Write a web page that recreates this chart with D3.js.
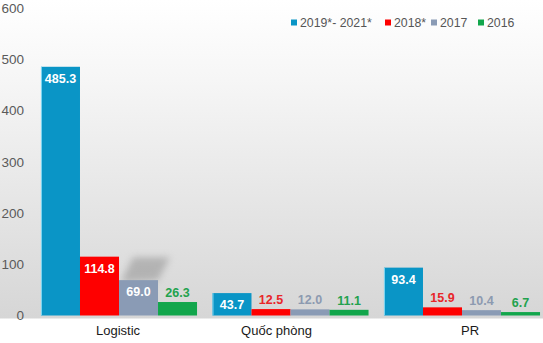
<!DOCTYPE html>
<html>
<head>
<meta charset="utf-8">
<script src="https://cdn.jsdelivr.net/npm/d3@7"></script>
<style>
  html, body { margin: 0; padding: 0; background: #fff; }
  svg { display: block; font-family: "Liberation Sans", Arial, sans-serif; }
</style>
</head>
<body>
<svg id="chart" width="543" height="343"></svg>
<script>
// Categories and series
const categories = ["Logistic", "Quốc phòng", "PR"];
const seriesNames = ["2019*- 2021*", "2018*", "2017", "2016"];
const seriesColors = ["#0a95c6", "#fe0000", "#8a9bb5", "#12a64c"];
const labelColors = ["#0a95c6", "#e8262a", "#8c9ab0", "#22a24e"];

// Values per series, in category order
const values2019_2021 = [485.3, 43.7, 93.4];
const values2018 = [114.8, 12.5, 15.9];
const values2017 = [69.0, 12.0, 10.4];
const values2016 = [26.3, 11.1, 6.7];
const seriesValues = [values2019_2021, values2018, values2017, values2016];

const yTicks = [0, 100, 200, 300, 400, 500, 600];

const width = 543, height = 343;
const svg = d3.select("#chart");

// Background gradient of the plotting area
const defs = svg.append("defs");
const bg = defs.append("linearGradient")
  .attr("id", "bgGrad").attr("x1", 0).attr("y1", 0).attr("x2", 0).attr("y2", 1);
bg.append("stop").attr("offset", "0%").attr("stop-color", "#ffffff");
bg.append("stop").attr("offset", "25%").attr("stop-color", "#f6f6f6");
bg.append("stop").attr("offset", "100%").attr("stop-color", "#d6d6d6");

const blur = defs.append("filter").attr("id", "soft")
  .attr("x", "-50%").attr("y", "-50%").attr("width", "200%").attr("height", "200%");
blur.append("feGaussianBlur").attr("stdDeviation", 3.5);

const y = d3.scaleLinear().domain([0, 600]).range([315.5, 8]);

const x0 = d3.scaleBand()
  .domain(categories)
  .range([33.25, 547.75])
  .paddingInner(0.09)
  .paddingOuter(0.045);

const x1 = d3.scaleBand()
  .domain(seriesNames)
  .range([0, x0.bandwidth()])
  .padding(0);

svg.append("rect")
  .attr("x", 0).attr("y", 0)
  .attr("width", width).attr("height", y(0) + 3)
  .attr("fill", "url(#bgGrad)");

// Y axis labels (no line, no tick marks)
const yAxis = d3.axisLeft(y).tickValues(yTicks).tickSize(0).tickPadding(0);
const yg = svg.append("g").attr("transform", "translate(24,0)").call(yAxis);
yg.select(".domain").remove();
yg.selectAll("text")
  .attr("fill", "#5a5a5a")
  .attr("font-size", 13.5)
  .attr("font-family", "Liberation Sans, Arial, sans-serif");

// Soft cast shadow above the 2017 Logistic bar
{
  const bx = x0("Logistic") + x1("2017");
  const bw = x1.bandwidth();
  const top = y(values2017[0]);
  svg.append("polygon")
    .attr("points", [
      [bx + 2, top + 2],
      [bx + 14, top - 23],
      [bx + bw + 12, top - 23],
      [bx + bw, top]
    ].map(p => p.join(",")).join(" "))
    .attr("fill", "#8a8a8a")
    .attr("opacity", 0.5)
    .attr("filter", "url(#soft)");
}

// Bars
const groups = svg.append("g").selectAll("g")
  .data(categories)
  .join("g")
  .attr("transform", c => `translate(${x0(c)},0)`);

groups.each(function (cat, ci) {
  const g = d3.select(this);
  seriesNames.forEach((s, si) => {
    const v = seriesValues[si][ci];
    const bx = x1(s);
    const top = y(v);
    g.append("rect")
      .attr("x", bx)
      .attr("y", top)
      .attr("width", x1.bandwidth())
      .attr("height", y(0) - top)
      .attr("fill", seriesColors[si]);
    if (si === 0) {
      g.append("rect")
        .attr("x", bx).attr("y", top)
        .attr("width", 1).attr("height", y(0) - top)
        .attr("fill", "#7fd6f2");
    }
    const inside = (y(0) - top) > 20;
    g.append("text")
      .attr("x", bx + x1.bandwidth() / 2)
      .attr("y", inside ? top + 16 : top - 5)
      .attr("text-anchor", "middle")
      .attr("font-size", 12.5)
      .attr("font-weight", "bold")
      .attr("fill", inside ? "#ffffff" : labelColors[si])
      .text(v.toFixed(1));
  });
});

// Category labels, nudged horizontally under their groups
const labelNudge = { "Logistic": -1, "Quốc phòng": -14, "PR": 8 };
svg.append("g").selectAll("text")
  .data(categories)
  .join("text")
  .attr("x", c => x0(c) + x0.bandwidth() / 2 + labelNudge[c])
  .attr("y", 335)
  .attr("text-anchor", "middle")
  .attr("font-size", 13)
  .attr("fill", "#1a1a1a")
  .text(c => c);

// Legend
const legendX = [291, 385, 431, 478];
const legend = svg.append("g");
seriesNames.forEach((s, i) => {
  legend.append("rect")
    .attr("x", legendX[i]).attr("y", 19.5)
    .attr("width", 6).attr("height", 6)
    .attr("fill", seriesColors[i]);
  legend.append("text")
    .attr("x", legendX[i] + 9)
    .attr("y", 26.5)
    .attr("font-size", 12.3)
    .attr("fill", "#555")
    .text(s);
});
</script>
</body>
</html>
